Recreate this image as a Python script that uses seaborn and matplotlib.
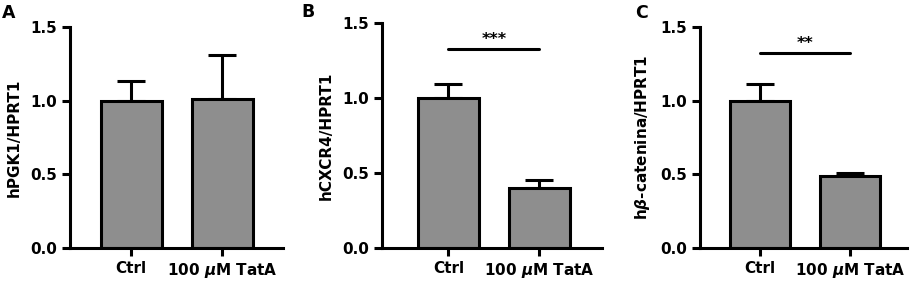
import numpy as np
import pandas as pd
import seaborn as sns
import matplotlib.pyplot as plt

groups = ['Ctrl', r'100 $\mu$M TatA']

# values (mean, upper SEM)
pgk1_mean = [1.00, 1.01]
pgk1_err = [0.13, 0.30]
cxcr4_mean = [1.00, 0.40]
cxcr4_err = [0.09, 0.05]
bcat_mean = [1.00, 0.49]
bcat_err = [0.11, 0.02]

panels = [
    ('A', 'hPGK1/HPRT1', pgk1_mean, pgk1_err, None, None),
    ('B', 'hCXCR4/HPRT1', cxcr4_mean, cxcr4_err, '***', 1.327),
    ('C', r'h$\beta$-catenina/HPRT1', bcat_mean, bcat_err, '**', 1.323),
]

# axes boxes in figure fraction [left, bottom, width, height] and xlims
boxes = [
    [0.0767, 0.136, 0.2333, 0.770],
    [0.4184, 0.136, 0.2410, 0.784],
    [0.7667, 0.136, 0.2267, 0.770],
]
xlims = [(-0.67, 1.67), (-0.73, 1.69), (-0.67, 1.63)]
letter_pos = [(0.002, 0.937), (0.330, 0.941), (0.696, 0.937)]

sns.set_style('ticks')
plt.rcParams['font.family'] = ['DejaVu Sans']
plt.rcParams['font.weight'] = 'bold'
plt.rcParams['text.color'] = 'black'
plt.rcParams['axes.labelcolor'] = 'black'
plt.rcParams['mathtext.fontset'] = 'custom'
plt.rcParams['mathtext.it'] = 'DejaVu Sans:italic:bold'

fig = plt.figure(figsize=(9.13, 2.87), dpi=100)
lw = 2.2
fs = 11

for (letter, ylab, mean, err, stars, sig_y), box, xl, lp in zip(panels, boxes, xlims, letter_pos):
    ax = fig.add_axes(box)
    df = pd.DataFrame({'group': groups, 'value': mean})
    sns.barplot(data=df, x='group', y='value', color='#8e8e8e', saturation=1,
                width=0.67, edgecolor='black', linewidth=lw, ax=ax, zorder=2)
    ax.errorbar(range(len(groups)), mean, yerr=[np.zeros(len(err)), err],
                fmt='none', ecolor='black', elinewidth=lw, capsize=10,
                capthick=lw, zorder=1)
    if stars:
        ax.plot([0, 1], [sig_y, sig_y], color='black', lw=lw)
        ax.text(0.5, sig_y + 0.015, stars, ha='center', va='bottom',
                fontsize=fs + 0.5, fontweight='bold', color='black')
    ax.set_ylim(0, 1.5)
    ax.set_xlim(*xl)
    ax.set_yticks([0, 0.5, 1.0, 1.5])
    ax.set_yticklabels(['0.0', '0.5', '1.0', '1.5'])
    ax.set_xlabel('')
    ax.set_ylabel(ylab, fontsize=fs, fontweight='bold', labelpad=6, color='black')
    ax.tick_params(axis='both', width=lw, length=6, labelsize=fs,
                   color='black', labelcolor='black')
    for s in ['left', 'bottom']:
        ax.spines[s].set_linewidth(lw)
        ax.spines[s].set_color('black')
    sns.despine(ax=ax)
    for t in ax.get_xticklabels() + ax.get_yticklabels():
        t.set_fontweight('bold')
    fig.text(lp[0], lp[1], letter, fontsize=12.5, fontweight='bold',
             ha='left', va='baseline', color='black')

fig.savefig('out.png', dpi=100)
